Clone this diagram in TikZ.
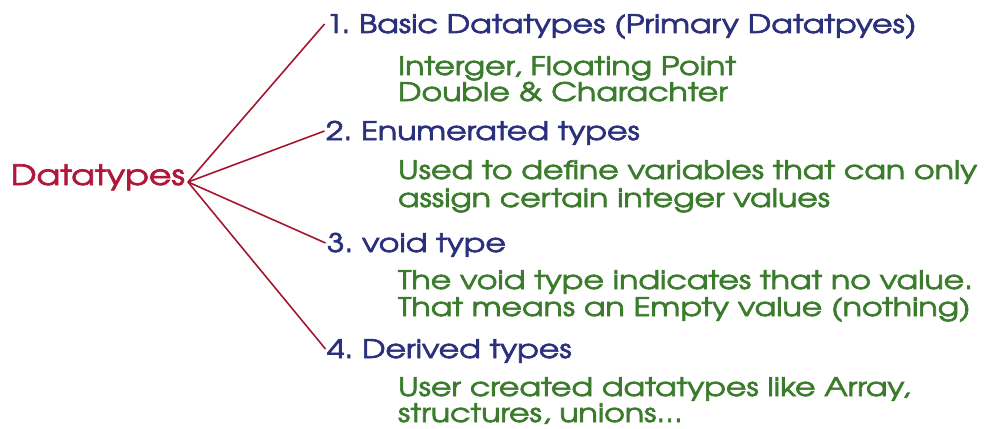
\documentclass[tikz,border=0pt]{standalone}
\usepackage{fontspec}
\setmainfont{TeX Gyre Adventor}[FakeBold=2.6, FakeStretch=1.24]
\frenchspacing
\definecolor{dtred}{HTML}{B0173A}
\definecolor{hdblue}{HTML}{2B307C}
\definecolor{dsgreen}{HTML}{3B7B2C}
\definecolor{lnred}{HTML}{A3172F}
\begin{document}
\begin{tikzpicture}[x=1pt,y=-1pt,
  every node/.style={inner sep=0pt, outer sep=0pt, anchor=base west},
  root/.style={text=dtred, font=\fontsize{28}{32}\selectfont, anchor=base east},
  head/.style={text=hdblue, font=\fontsize{25.5}{30}\selectfont, text height=18pt, text depth=0pt},
  desc/.style={text=dsgreen, font=\fontsize{25.5}{30}\selectfont},
  branch/.style={draw=lnred, line width=1.6pt}]
\useasboundingbox (0,0) rectangle (984,428);
\node[root] (dt) at (185,185) {Datatypes};
\coordinate (hub) at (188,182);
\node[head] (h1) at (326,33) {1. Basic Datatypes (Primary Datatpyes)};
\node[desc] (d1a) at (398,75) {Interger, Floating Point};
\node[desc] (d1b) at (398,101) {Double \& Charachter};
\node[head] (h2) at (326,140) {2. Enumerated types};
\node[desc] (d2a) at (398,179) {Used to define variables that can only};
\node[desc] (d2b) at (398,207) {assign certain integer values};
\node[head] (h3) at (327,252) {3. void type};
\node[desc] (d3a) at (398,289) {The void type indicates that no value.};
\node[desc] (d3b) at (398,316) {That means an Empty value (nothing)};
\node[head] (h4) at (327,358) {4. Derived types};
\node[desc] (d4a) at (398,396) {User created datatypes like Array,};
\node[desc] (d4b) at (398,422) {structures, unions...};
\draw[branch] (hub) -- ([xshift=-1.5pt]h1.west);
\draw[branch] (hub) -- ([xshift=-1.5pt]h2.west);
\draw[branch] (hub) -- ([xshift=-1.5pt]h3.west);
\draw[branch] (hub) -- ([xshift=-1.5pt]h4.west);
\end{tikzpicture}
\end{document}
